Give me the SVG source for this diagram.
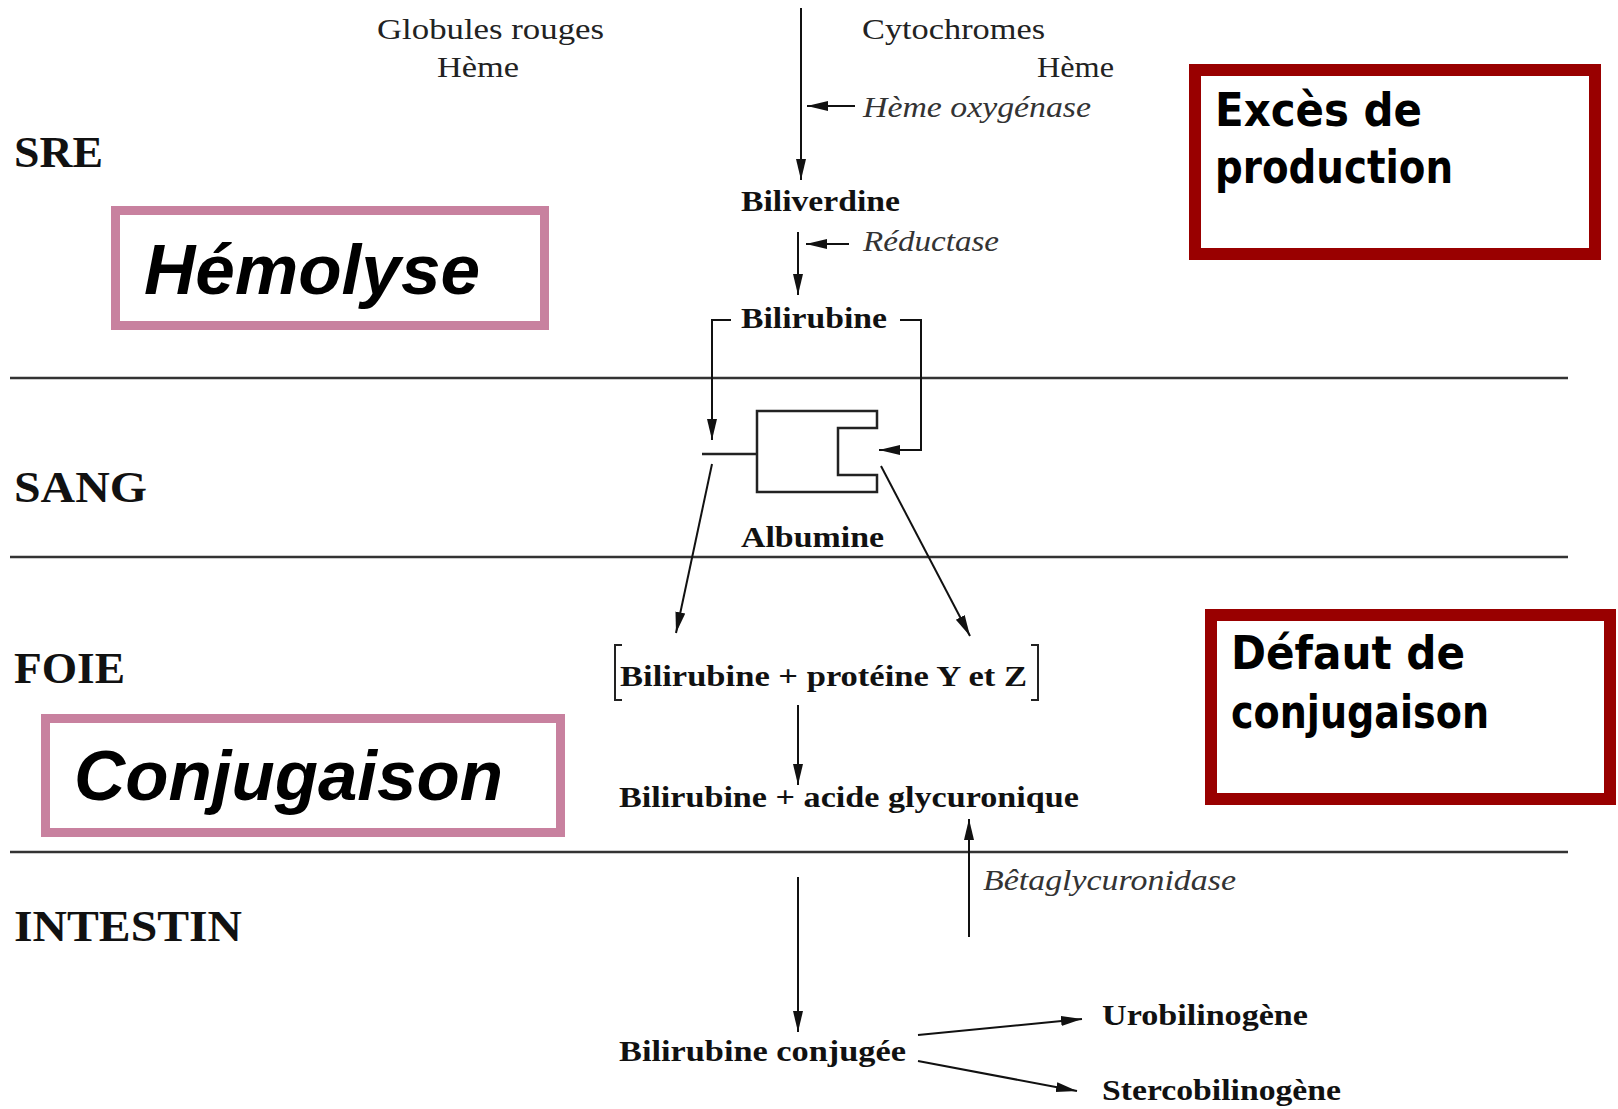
<svg xmlns="http://www.w3.org/2000/svg" width="1618" height="1109" viewBox="0 0 1618 1109">
<defs>
<marker id="ah" markerUnits="userSpaceOnUse" markerWidth="22" markerHeight="12" refX="21" refY="6" orient="auto">
<path d="M0,1 L21,6 L0,11 z" fill="#111"/>
</marker>
<style>
.zone{font-family:"Liberation Serif","Times New Roman",serif;font-weight:bold;font-size:44px;fill:#111}
.t{font-family:"Liberation Serif","Times New Roman",serif;font-size:30px;fill:#222}
.b{font-family:"Liberation Serif","Times New Roman",serif;font-weight:bold;font-size:30px;fill:#111}
.i{font-family:"Liberation Serif","Times New Roman",serif;font-style:italic;font-size:30px;fill:#333}
.pink{fill:#fff;stroke:#c8819f;stroke-width:9}
.red{fill:#fff;stroke:#990000;stroke-width:12}
.big{font-family:"Liberation Sans",Arial,sans-serif;font-weight:bold;font-style:italic;font-size:70px;fill:#000}
.comic{font-family:"DejaVu Sans","Noto Sans",sans-serif;font-weight:bold;font-size:47px;fill:#000}
.sep{stroke:#333;stroke-width:2.5}
.c{stroke:#111;stroke-width:2;fill:none}
.ca{stroke:#111;stroke-width:2;fill:none;marker-end:url(#ah)}
</style>
</defs>
<rect width="1618" height="1109" fill="#fff"/>

<g id="separators">
<line class="sep" x1="10" y1="378" x2="1568" y2="378"/>
<line class="sep" x1="10" y1="557" x2="1568" y2="557"/>
<line class="sep" x1="10" y1="852" x2="1568" y2="852"/>
</g>

<g id="zones">
<text class="zone" x="14" y="167" textLength="89" lengthAdjust="spacingAndGlyphs">SRE</text>
<text class="zone" x="14" y="502" textLength="133" lengthAdjust="spacingAndGlyphs">SANG</text>
<text class="zone" x="14" y="683" textLength="111" lengthAdjust="spacingAndGlyphs">FOIE</text>
<text class="zone" x="14" y="941" textLength="228" lengthAdjust="spacingAndGlyphs">INTESTIN</text>
</g>

<g id="sources">
<text class="t" x="377" y="39" textLength="227" lengthAdjust="spacingAndGlyphs">Globules rouges</text>
<text class="t" x="437" y="77" textLength="82" lengthAdjust="spacingAndGlyphs">Hème</text>
<text class="t" x="862" y="39" textLength="183" lengthAdjust="spacingAndGlyphs">Cytochromes</text>
<text class="t" x="1037" y="77" textLength="77" lengthAdjust="spacingAndGlyphs">Hème</text>
</g>

<g id="enzyme-heme-oxygenase">
<text class="i" x="863" y="117" textLength="228" lengthAdjust="spacingAndGlyphs">Hème oxygénase</text>
</g>
<g id="biliverdine">
<text class="b" x="741" y="211" textLength="159" lengthAdjust="spacingAndGlyphs">Biliverdine</text>
</g>
<g id="enzyme-reductase">
<text class="i" x="863" y="251" textLength="136" lengthAdjust="spacingAndGlyphs">Réductase</text>
</g>
<g id="bilirubine">
<text class="b" x="741" y="328" textLength="146" lengthAdjust="spacingAndGlyphs">Bilirubine</text>
</g>
<g id="albumine">
<path d="M757,411 H877 V428 H838 V475 H877 V492 H757 Z" fill="none" stroke="#222" stroke-width="2.5"/>
<line x1="702" y1="454" x2="757" y2="454" stroke="#222" stroke-width="2.5"/>
<text class="b" x="741" y="547" textLength="143" lengthAdjust="spacingAndGlyphs">Albumine</text>
</g>
<g id="bilirubine-proteine">
<path d="M622,645 H615 V700 H622" fill="none" stroke="#222" stroke-width="2"/>
<path d="M1031,645 H1038 V700 H1031" fill="none" stroke="#222" stroke-width="2"/>
<text class="b" x="620" y="686" textLength="407" lengthAdjust="spacingAndGlyphs">Bilirubine + protéine Y et Z</text>
</g>
<g id="bilirubine-acide">
<text class="b" x="619" y="807" textLength="460" lengthAdjust="spacingAndGlyphs">Bilirubine + acide glycuronique</text>
</g>
<g id="enzyme-betaglycuronidase">
<text class="i" x="983" y="890" textLength="253" lengthAdjust="spacingAndGlyphs">Bêtaglycuronidase</text>
</g>
<g id="bilirubine-conjuguee">
<text class="b" x="619" y="1061" textLength="287" lengthAdjust="spacingAndGlyphs">Bilirubine conjugée</text>
</g>
<g id="urobilinogene">
<text class="b" x="1102" y="1025" textLength="206" lengthAdjust="spacingAndGlyphs">Urobilinogène</text>
</g>
<g id="stercobilinogene">
<text class="b" x="1102" y="1100" textLength="239" lengthAdjust="spacingAndGlyphs">Stercobilinogène</text>
</g>

<g id="hemolyse">
<rect class="pink" x="115.5" y="210.5" width="429" height="115"/>
<text class="big" x="144" y="294" textLength="336" lengthAdjust="spacingAndGlyphs">Hémolyse</text>
</g>
<g id="conjugaison">
<rect class="pink" x="45.5" y="718.5" width="515" height="114"/>
<text class="big" x="74" y="800" textLength="429" lengthAdjust="spacingAndGlyphs">Conjugaison</text>
</g>
<g id="exces-production">
<rect class="red" x="1195" y="70" width="400" height="184"/>
<text class="comic" x="1215" y="126" textLength="207" lengthAdjust="spacingAndGlyphs">Excès de</text>
<text class="comic" x="1215" y="183" textLength="238" lengthAdjust="spacingAndGlyphs">production</text>
</g>
<g id="defaut-conjugaison">
<rect class="red" x="1211" y="615" width="399" height="184"/>
<text class="comic" x="1231" y="669" textLength="234" lengthAdjust="spacingAndGlyphs">Défaut de</text>
<text class="comic" x="1231" y="728" textLength="258" lengthAdjust="spacingAndGlyphs">conjugaison</text>
</g>

<g id="connectors">
<line class="ca" x1="801" y1="8" x2="801" y2="180"/>
<line class="ca" x1="855" y1="106" x2="807" y2="106"/>
<line class="ca" x1="798" y1="232" x2="798" y2="295"/>
<line class="ca" x1="849" y1="244" x2="806" y2="244"/>
<polyline class="ca" points="731,320 712,320 712,440"/>
<polyline class="ca" points="900,320 921,320 921,450 879,450"/>
<line class="ca" x1="712" y1="464" x2="676" y2="633"/>
<line class="ca" x1="881" y1="466" x2="970" y2="636"/>
<line class="ca" x1="798" y1="705" x2="798" y2="785"/>
<line class="ca" x1="969" y1="937" x2="969" y2="819"/>
<line class="ca" x1="798" y1="877" x2="798" y2="1032"/>
<line class="ca" x1="918" y1="1035" x2="1082" y2="1019"/>
<line class="ca" x1="918" y1="1061" x2="1077" y2="1091"/>
</g>
</svg>
